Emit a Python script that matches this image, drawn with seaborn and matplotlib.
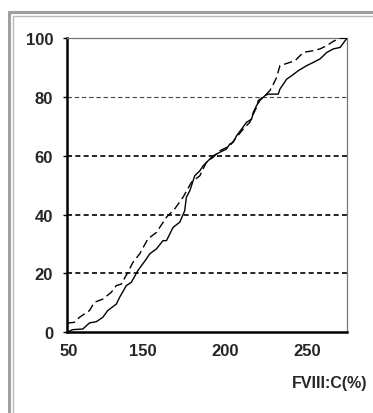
import numpy as np
import pandas as pd
import matplotlib
matplotlib.use("Agg")
import matplotlib.pyplot as plt
import seaborn as sns

# -------------------------------
# DATA
# -------------------------------
solid_x = [104.5, 107.5, 113.6, 117.7, 121.8, 125.8, 128.8, 134.0, 136.0, 140.1,
           143.1, 147.1, 152.3, 154.3, 158.4, 162.4, 164.5, 168.5, 172.6, 175.6,
           176.6, 178.7, 180.7, 181.7, 184.8, 186.8, 189.8, 192.9, 197.0, 201.0,
           203.0, 205.1, 207.1, 210.2, 213.2, 216.3, 217.3, 219.3, 221.3, 224.4,
           226.4, 232.5, 233.5, 237.6, 240.7, 244.7, 249.8, 253.8, 257.9, 262.0,
           266.0, 270.1, 274.2]
solid_y = [0.0, 0.8, 1.0, 3.1, 3.5, 5.0, 7.3, 9.5, 11.8, 15.8,
           16.9, 20.9, 24.9, 26.6, 28.3, 31.1, 31.1, 35.6, 37.4, 41.3,
           45.9, 48.1, 51.5, 53.2, 54.9, 56.6, 58.3, 60.0, 61.2, 62.3,
           64.0, 64.6, 66.8, 69.1, 71.4, 72.5, 74.8, 77.1, 78.8, 80.5,
           81.0, 81.0, 82.7, 86.1, 87.3, 89.0, 90.7, 91.8, 93.0, 95.2,
           96.4, 96.9, 100.0]

dashed_x = [104.0, 108.5, 111.6, 117.7, 120.7, 125.8, 130.9, 134.0, 137.0, 141.0,
            144.1, 148.2, 153.2, 158.4, 164.5, 169.5, 174.6, 179.7, 184.8, 188.8,
            192.9, 197.0, 203.0, 207.1, 211.2, 215.2, 217.3, 219.3, 220.3, 224.4,
            227.4, 229.5, 231.5, 233.5, 239.6, 242.7, 247.7, 253.8, 257.9, 262.0,
            266.0, 270.0, 274.2]
dashed_y = [3.0, 3.3, 5.0, 7.3, 10.1, 11.2, 13.5, 15.8, 16.3, 20.3,
            23.7, 26.6, 31.7, 33.9, 39.1, 41.9, 45.9, 51.0, 53.2, 57.8,
            59.5, 61.7, 63.4, 66.3, 69.1, 71.4, 74.2, 76.5, 78.8, 80.5,
            82.2, 84.4, 86.7, 90.7, 91.8, 92.4, 95.2, 95.8, 96.4, 97.5,
            99.0, 100.0, 100.0]

x_tick_pos = [105, 150, 200, 250]
x_tick_labels = ["50", "150", "200", "250"]
y_ticks = [0, 20, 40, 60, 80, 100]
x_label = "FVIII:C(%)"

sns.set_theme(style="white")
plt.rcParams["font.family"] = ["Liberation Sans", "DejaVu Sans"]
plt.rcParams["font.weight"] = "bold"

fig = plt.figure(figsize=(3.73, 4.14), dpi=100)
ax = fig.add_axes([0.1796, 0.1957, 0.7507, 0.7093])

# gridlines
for v in y_ticks[1:-1]:
    if v == 80:
        ax.axhline(v, color="#444444", lw=0.8, ls=(0, (4, 2.5)), zorder=1)
    else:
        ax.axhline(v, color="black", lw=1.2, ls=(0, (3, 2)), zorder=1)

df_s = pd.DataFrame({"x": solid_x, "y": solid_y})
df_d = pd.DataFrame({"x": dashed_x, "y": dashed_y})
sns.lineplot(data=df_s, x="x", y="y", ax=ax, color="black", lw=1.0,
             sort=False, estimator=None, zorder=3)
sns.lineplot(data=df_d, x="x", y="y", ax=ax, color="black", lw=1.0,
             sort=False, estimator=None, zorder=3, dashes=False)
ax.lines[-1].set_linestyle((0, (6, 3)))

ax.set_xlim(104, 274.3)
ax.set_ylim(0, 100)
ax.set_xticks(x_tick_pos)
ax.set_xticklabels(x_tick_labels)
ax.set_yticks(y_ticks)
ax.tick_params(axis="x", length=0, pad=8, labelsize=12)
ax.tick_params(axis="y", length=3, width=1, pad=7, labelsize=12,
               left=True, color="black")
ax.set_xlabel("")
ax.set_ylabel("")
for lbl in ax.get_xticklabels() + ax.get_yticklabels():
    lbl.set_fontweight("bold")

for s in ["left", "bottom"]:
    ax.spines[s].set_color("black")
    ax.spines[s].set_linewidth(1.8)
for s in ["top", "right"]:
    ax.spines[s].set_color("#777777")
    ax.spines[s].set_linewidth(0.9)

fig.text(0.986, 0.073, x_label, ha="right", va="center",
         fontsize=11.5, fontweight="bold")

# double gray frame of the original panel
W, H = 373, 414
def fline(x0, y0, x1, y1, c, lw):
    fig.add_artist(plt.Line2D([x0 / W, x1 / W], [1 - y0 / H, 1 - y1 / H],
                              transform=fig.transFigure, color=c, lw=lw))
fline(8.5, 12.5, W, 12.5, "#a0a0a0", 2.2)
fline(8.5, 12.5, 8.5, H, "#a0a0a0", 2.2)
fline(12.7, 16.5, W, 16.5, "#b8b8b8", 1.0)
fline(12.7, 16.5, 12.7, H, "#b8b8b8", 1.0)

fig.savefig("out.png", dpi=100)
